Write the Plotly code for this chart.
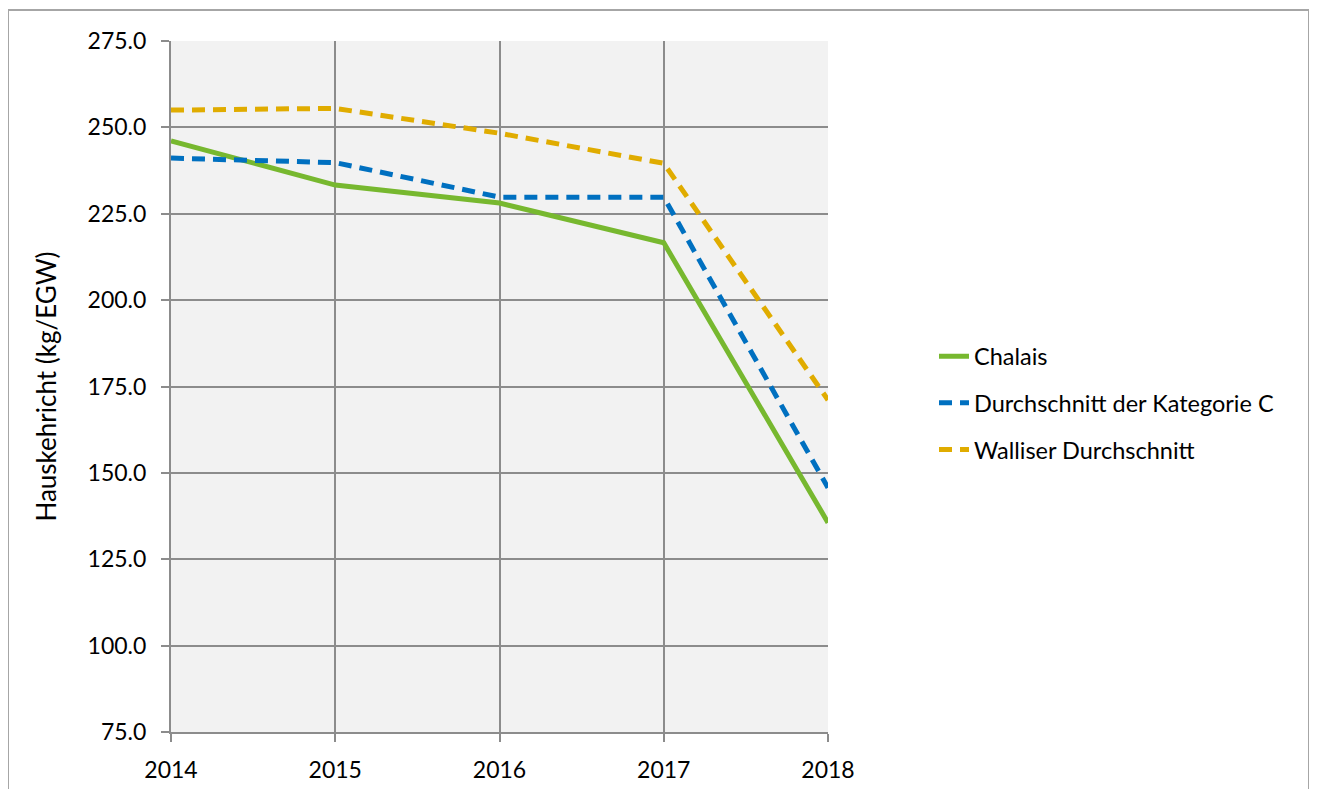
import plotly.graph_objects as go

years = [2014, 2015, 2016, 2017, 2018]
chalais = [246.1, 233.3, 228.1, 216.6, 135.6]
kategorie_c = [241.1, 239.8, 229.8, 229.8, 145.7]
wallis = [255.0, 255.5, 248.3, 239.6, 171.1]
y_ticks = [75, 100, 125, 150, 175, 200, 225, 250, 275]

FONT = "Lato"
fig = go.Figure()
fig.add_trace(go.Scatter(x=years, y=chalais, mode="lines", name="Chalais", legendgroup="a",
                         line=dict(color="#77b82f", width=5)))
fig.add_trace(go.Scatter(x=years, y=kategorie_c, mode="lines", name="Durchschnitt der Kategorie C",
                         legendgroup="b",
                         line=dict(color="#0070c0", width=5, dash="13px,8px")))
fig.add_trace(go.Scatter(x=years, y=wallis, mode="lines", name="Walliser Durchschnitt",
                         legendgroup="c",
                         line=dict(color="#e0ac00", width=5, dash="13px,8px")))

OFF = 8  # page body margin
W, H = 1317 - OFF, 789 - OFF
L, R, T, B = 171 - OFF, 828 - OFF, 41 - OFF, 732 - OFF
pw, ph = R - L, B - T

fig.update_layout(
    width=W, height=H,
    margin=dict(l=L, r=W - R, t=T, b=H - B, autoexpand=False),
    paper_bgcolor="white", plot_bgcolor="#f2f2f2",
    font=dict(family=FONT, size=23, color="#000000"),
    showlegend=True,
    legend=dict(x=(934 - OFF - L) / pw, y=(B + OFF - 403) / ph, xanchor="left", yanchor="middle",
                font=dict(size=23.5), traceorder="grouped", tracegroupgap=13, itemwidth=30,
                bgcolor="rgba(0,0,0,0)"),
    xaxis=dict(range=[2014, 2018], tickvals=years, ticktext=[str(y) for y in years],
               showgrid=True, gridcolor="#8c8c8c", gridwidth=2,
               showline=True, linecolor="#8c8c8c", linewidth=2,
               ticks="outside", ticklen=8, tickcolor="#8c8c8c", tickwidth=2,
               ticklabelstandoff=8, automargin=False,
               zeroline=False, tickfont=dict(size=23)),
    yaxis=dict(range=[75, 275], tickvals=y_ticks, ticktext=[f"{v:.1f}" for v in y_ticks],
               showgrid=True, gridcolor="#8c8c8c", gridwidth=2,
               showline=True, linecolor="#8c8c8c", linewidth=2,
               ticks="outside", ticklen=8, tickcolor="#8c8c8c", tickwidth=2,
               ticklabelstandoff=10, automargin=False,
               zeroline=False, tickfont=dict(size=23),
               title=dict(text="Hauskehricht (kg/EGW)", font=dict(size=26), standoff=24)),
)

fig.add_shape(type="rect", xref="paper", yref="paper",
              x0=(8 - OFF - L) / pw, x1=(1309 - OFF - L) / pw,
              y0=(B - 800) / ph, y1=(B - (10 - OFF)) / ph,
              line=dict(color="#a6a6a6", width=2), fillcolor="rgba(0,0,0,0)", layer="below")

fig.write_html("out.html")
